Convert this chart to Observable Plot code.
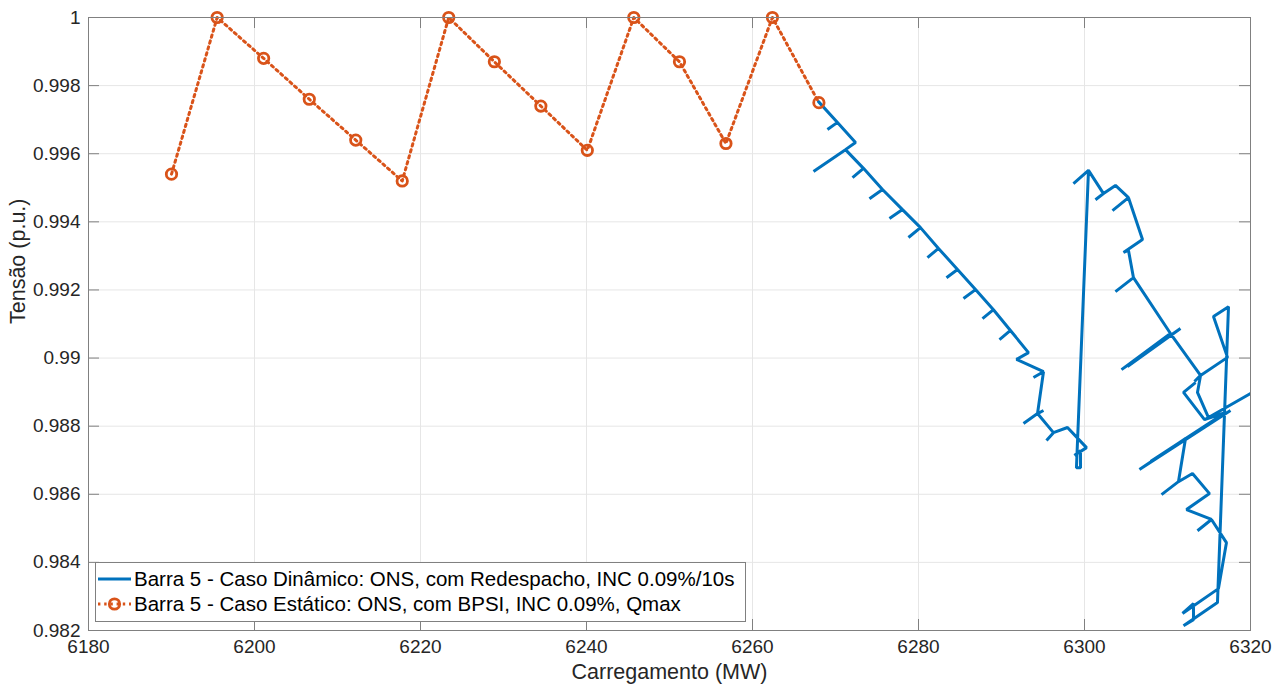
<!DOCTYPE html>
<html>
<head>
<meta charset="utf-8">
<script src="https://cdn.jsdelivr.net/npm/d3@7"></script>
<script src="https://cdn.jsdelivr.net/npm/@observablehq/plot@0.6"></script>
<style>
  html, body { margin: 0; padding: 0; background: #fff; }
  #wrap { position: relative; width: 1285px; height: 691px; font-family: "Liberation Sans", Arial, sans-serif; }
  #legend { position: absolute; left: 95px; top: 562px; }
</style>
</head>
<body>
<div id="wrap"><div id="chart"></div><div id="legend"></div></div>
<script>
// ---- Data ----
const xTicks = [6180, 6200, 6220, 6240, 6260, 6280, 6300, 6320];
const xTickLabels = ["6180", "6200", "6220", "6240", "6260", "6280", "6300", "6320"];
const yTicks = [0.982, 0.984, 0.986, 0.988, 0.99, 0.992, 0.994, 0.996, 0.998, 1];
const yTickLabels = ["0.982", "0.984", "0.986", "0.988", "0.99", "0.992", "0.994", "0.996", "0.998", "1"];

const seriesNames = [
  "Barra 5 - Caso Dinâmico: ONS, com Redespacho, INC 0.09%/10s",
  "Barra 5 - Caso Estático: ONS, com BPSI, INC 0.09%, Qmax"
];

// Static case (orange)
const staticX = [6190.0, 6195.5, 6201.1, 6206.6, 6212.2, 6217.8, 6223.4, 6228.9, 6234.5, 6240.1, 6245.7, 6251.2, 6256.8, 6262.4, 6268.0];
const staticY = [0.9954, 1.0, 0.9988, 0.9976, 0.9964, 0.9952, 1.0, 0.9987, 0.9974, 0.9961, 1.0, 0.9987, 0.9963, 1.0, 0.9975];

// Dynamic case (blue)
const dynX = [
  6267.95, 6270.24, 6269.03, 6270.24, 6272.41, 6271.20, 6267.35, 6271.20, 6273.37, 6272.05,
  6273.37, 6275.66, 6274.09, 6275.66, 6278.07, 6276.50, 6278.07, 6280.24, 6278.79, 6280.24,
  6282.41, 6281.08, 6282.41, 6284.70, 6283.37, 6284.70, 6286.87, 6285.42, 6286.87, 6289.03,
  6287.71, 6289.03, 6291.08, 6289.76, 6291.08, 6293.25, 6291.81, 6295.06, 6293.85, 6295.06,
  6294.34, 6295.06, 6294.34, 6292.65, 6294.34, 6296.26, 6295.42, 6296.26, 6297.95, 6300.24,
  6298.79, 6299.52, 6299.52, 6299.03, 6300.48, 6298.67, 6300.48, 6302.29, 6301.32, 6302.29,
  6303.73, 6305.30, 6303.37, 6305.30, 6306.99, 6304.70, 6305.30, 6305.90, 6303.73, 6305.90,
  6310.36, 6304.46, 6311.56, 6305.18, 6310.36, 6313.98, 6313.25, 6313.98, 6313.61, 6314.94,
  6313.61, 6313.98, 6317.23, 6315.54, 6317.35, 6316.02, 6311.93, 6313.13, 6313.13, 6311.81,
  6316.14, 6317.10, 6315.30, 6313.61, 6315.30, 6312.29, 6315.06, 6313.01, 6311.32, 6309.28,
  6311.32, 6312.17, 6306.62, 6317.59, 6307.95, 6316.99, 6314.46, 6311.93, 6313.37, 6311.93,
  6314.46, 6320.00
];
const dynY = [
  0.99753, 0.99692, 0.99671, 0.99692, 0.99633, 0.99612, 0.99548, 0.99612, 0.99557, 0.99530,
  0.99557, 0.99495, 0.99468, 0.99495, 0.99436, 0.99410, 0.99436, 0.99383, 0.99354, 0.99383,
  0.99322, 0.99295, 0.99322, 0.99260, 0.99236, 0.99260, 0.99201, 0.99175, 0.99201, 0.99142,
  0.99116, 0.99142, 0.99081, 0.99054, 0.99081, 0.99016, 0.98996, 0.98960, 0.98943, 0.98960,
  0.98837, 0.98846, 0.98837, 0.98808, 0.98837, 0.98781, 0.98758, 0.98781, 0.98796, 0.98737,
  0.98714, 0.98728, 0.98678, 0.98678, 0.99551, 0.99512, 0.99551, 0.99483, 0.99465, 0.99483,
  0.99507, 0.99471, 0.99433, 0.99471, 0.99348, 0.99310, 0.99316, 0.99236, 0.99195, 0.99236,
  0.99072, 0.98966, 0.99087, 0.98975, 0.99072, 0.98949, 0.98931, 0.98949, 0.98899, 0.98825,
  0.98899, 0.98949, 0.99002, 0.99122, 0.99151, 0.98282, 0.98214, 0.98232, 0.98279, 0.98250,
  0.98323, 0.98458, 0.98526, 0.98493, 0.98526, 0.98555, 0.98602, 0.98661, 0.98637, 0.98599,
  0.98637, 0.98764, 0.98673, 0.98846, 0.98696, 0.98840, 0.98819, 0.98899, 0.98928, 0.98899,
  0.98819, 0.98896
];

// ---- Build ----
const BLUE = "#0072BD", ORANGE = "#D95319";
const AXIS = "#808080", TEXT = "#262626", GRID = "#e6e6e6";
const FONT = '"Liberation Sans", Arial, sans-serif';
const W = 1285, H = 691, ML = 88, MR = 35, MT = 17, MB = 61;
const FW = W - ML - MR, FH = H - MT - MB, TL = 11;
const DASH = "2.4,3.8";

const dyn = dynX.map((x, i) => ({x, y: dynY[i]}));
const stat = staticX.map((x, i) => ({x, y: staticY[i]}));

const chart = Plot.plot({
  width: W, height: H,
  marginLeft: ML, marginRight: MR, marginTop: MT, marginBottom: MB,
  x: {domain: [6180, 6320]},
  y: {domain: [0.982, 1]},
  style: {fontFamily: FONT, background: "#fff", color: TEXT, overflow: "visible"},
  marks: [
    Plot.gridX(xTicks, {stroke: GRID, strokeOpacity: 1}),
    Plot.gridY(yTicks, {stroke: GRID, strokeOpacity: 1}),
    Plot.line(dyn, {x: "x", y: "y", stroke: BLUE, strokeWidth: 3, clip: true, strokeLinejoin: "miter"}),
    Plot.line(stat, {x: "x", y: "y", stroke: ORANGE, strokeWidth: 3, strokeDasharray: DASH}),
    Plot.dot(stat, {x: "x", y: "y", r: 5.2, stroke: ORANGE, strokeWidth: 2.8, fill: "none"}),
    Plot.frame({stroke: AXIS, strokeWidth: 1}),
    Plot.tickX(xTicks, {x: d => d, insetTop: FH - TL, stroke: AXIS}),
    Plot.tickX(xTicks, {x: d => d, insetBottom: FH - TL, stroke: AXIS}),
    Plot.tickY(yTicks, {y: d => d, insetRight: FW - TL, stroke: AXIS}),
    Plot.tickY(yTicks, {y: d => d, insetLeft: FW - TL, stroke: AXIS}),
    Plot.axisX(xTicks, {tickSize: 0, tickPadding: 9, fontSize: 19, label: null, color: TEXT,
      tickFormat: d => xTickLabels[xTicks.indexOf(d)]}),
    Plot.axisY(yTicks, {tickSize: 0, tickPadding: 8, fontSize: 19, label: null, color: TEXT,
      tickFormat: d => yTickLabels[yTicks.indexOf(d)]}),
    Plot.text(["Carregamento (MW)"], {frameAnchor: "bottom", dy: 48, fontSize: 21.5, fill: TEXT}),
    Plot.text(["Tensão (p.u.)"], {frameAnchor: "left", dx: -70, rotate: -90, fontSize: 21.5, fill: TEXT})
  ]
});
document.getElementById("chart").appendChild(chart);

// ---- Legend ----
const lw = 651, lh = 60;
const leg = d3.select("#legend").append("svg").attr("width", lw).attr("height", lh)
  .style("font-family", FONT);
leg.append("rect").attr("x", 0.5).attr("y", 0.5).attr("width", lw - 1).attr("height", lh - 1)
  .attr("fill", "#fff").attr("stroke", AXIS);
const rows = [
  {name: seriesNames[0], color: BLUE, dash: null, marker: false, y: 17, w: 3},
  {name: seriesNames[1], color: ORANGE, dash: DASH, marker: true, y: 42, w: 3}
];
rows.forEach(r => {
  leg.append("line").attr("x1", 3).attr("x2", 36).attr("y1", r.y).attr("y2", r.y)
    .attr("stroke", r.color).attr("stroke-width", r.w).attr("stroke-dasharray", r.dash);
  if (r.marker) leg.append("circle").attr("cx", 19.5).attr("cy", r.y).attr("r", 5.2)
    .attr("fill", "none").attr("stroke", r.color).attr("stroke-width", 2.8);
  leg.append("text").attr("x", 39).attr("y", r.y).attr("dy", "0.35em")
    .attr("font-size", 20.5).attr("fill", "#000").text(r.name);
});
</script>
</body>
</html>
